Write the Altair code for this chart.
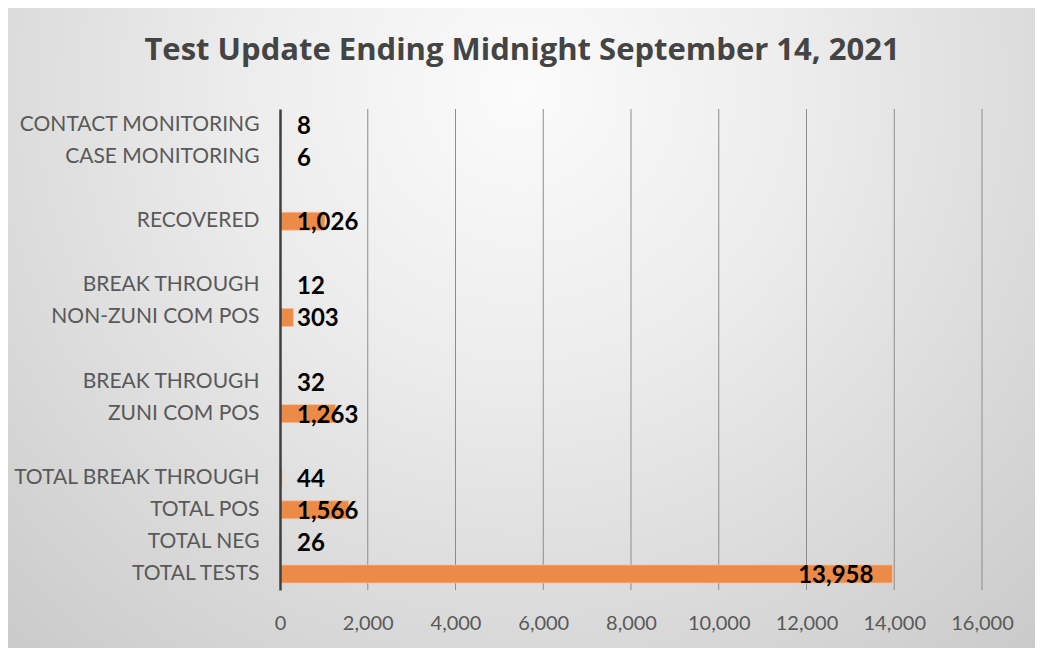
import altair as alt
import pandas as pd

# ---- data ----
categories = ["CONTACT MONITORING", "CASE MONITORING", "", "RECOVERED", "",
              "BREAK THROUGH", "NON-ZUNI COM POS", "", "BREAK THROUGH", "ZUNI COM POS", "",
              "TOTAL BREAK THROUGH", "TOTAL POS", "TOTAL NEG", "TOTAL TESTS"]
values = [8, 6, None, 1026, None, 12, 303, None, 32, 1263, None, 44, 1566, 26, 13958]
x_ticks = [0, 2000, 4000, 6000, 8000, 10000, 12000, 14000, 16000]
title_text = "Test Update Ending Midnight September 14, 2021"

keys = [f"{c}|{i}" for i, c in enumerate(categories)]
df = pd.DataFrame({"key": keys, "value": values})
grid_df = pd.DataFrame({"value": x_ticks[1:]})

FONT = "Lato"
W, H = 702, 481
PAD = {"left": 272, "top": 101, "right": 53, "bottom": 58}

xscale = alt.Scale(domain=[0, 16000], nice=False)
xaxis = alt.Axis(values=x_ticks, labelExpr="format(datum.value, ',')", ticks=False,
                 domain=False, grid=False, labelOverlap=False, labelFlush=False,
                 labelPadding=23, labelFontSize=20, labelColor="#595959",
                 labelFont=FONT, zindex=1)
yaxis = alt.Axis(labelExpr="split(datum.label, '|')[0]", ticks=False,
                 domain=True, domainColor="#404040", domainWidth=2.5,
                 labelPadding=21, labelFontSize=21, labelColor="#595959",
                 labelFont=FONT, labelLimit=0, zindex=1, grid=False)

background = alt.Chart(alt.Data(values=[{}])).mark_rect(
    color=alt.Gradient(gradient="radial",
                       stops=[alt.GradientStop(color="#fbfbfb", offset=0),
                              alt.GradientStop(color="#ececec", offset=0.35),
                              alt.GradientStop(color="#c6c6c6", offset=1)],
                       x1=0.5, y1=0.5, r1=0, x2=0.5, y2=0.5, r2=0.52)
).encode(x=alt.value(-272), x2=alt.value(755), y=alt.value(-804), y2=alt.value(767))

grid = alt.Chart(grid_df).mark_rule(
    color="#8c8c8c", strokeWidth=1
).encode(x=alt.X("value:Q", scale=xscale, title=None, axis=xaxis))

bars = alt.Chart(df).mark_bar(size=18, color="#EC8A47", stroke="#F6BE98", strokeWidth=0.8).encode(
    x=alt.X("value:Q", scale=xscale, title=None, axis=xaxis),
    y=alt.Y("key:N", sort=keys, title=None, axis=yaxis),
)

small_labels = alt.Chart(df).transform_filter(
    "isValid(datum.value) && datum.value < 10000"
).mark_text(align="left", baseline="middle", dx=17, dy=2, fontSize=24,
            fontWeight="bold", font=FONT, color="#000000").encode(
    x=alt.value(0),
    y=alt.Y("key:N", sort=keys),
    text=alt.Text("value:Q", format=","),
)

big_labels = alt.Chart(df).transform_filter(
    "isValid(datum.value) && datum.value >= 10000"
).mark_text(align="right", baseline="middle", dx=-19, dy=2, fontSize=24,
            fontWeight="bold", font=FONT, color="#000000").encode(
    x=alt.X("value:Q", scale=xscale),
    y=alt.Y("key:N", sort=keys),
    text=alt.Text("value:Q", format=","),
)

title = alt.Chart(alt.Data(values=[{"t": title_text}])).mark_text(
    align="center", baseline="alphabetic", fontSize=31, fontWeight="bold",
    font="Open Sans", color="#444444"
).encode(x=alt.value(242), y=alt.value(-49), text="t:N")

chart = alt.layer(background, grid, bars, small_labels, big_labels, title).properties(
    width=W, height=H, padding=PAD,
    autosize=alt.AutoSizeParams(type="none"),
).configure_view(stroke=None)

chart.save("out.html", embed_options={"renderer": "svg", "actions": False})
